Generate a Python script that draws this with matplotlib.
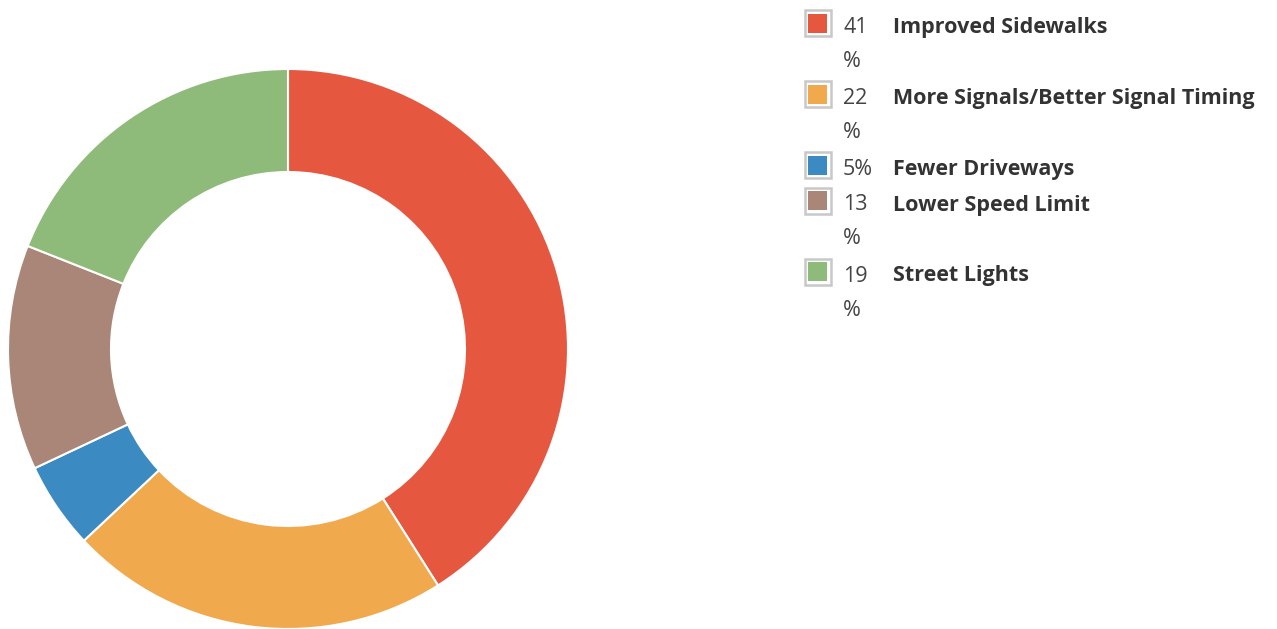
import matplotlib.pyplot as plt
from matplotlib.patches import Rectangle

# datos del grafico
categorias = ["Improved Sidewalks", "More Signals/Better Signal Timing",
              "Fewer Driveways", "Lower Speed Limit", "Street Lights"]
porcentajes = [41, 22, 5, 13, 19]
colores = ["#e5573f", "#f0aa4d", "#3b8bc2", "#a98677", "#8fbb7a"]

W, H = 1277, 629
fig = plt.figure(figsize=(W / 100, H / 100), dpi=100)
ax = fig.add_axes([0, 0, 1, 1])

# dona (coordenadas en pixeles, y hacia arriba)
ax.pie(porcentajes, colors=colores, startangle=90, counterclock=False,
       center=(288, H - 349), radius=280, frame=True,
       wedgeprops=dict(width=103, edgecolor="white", linewidth=1.5))
ax.set_xlim(0, W)
ax.set_ylim(0, H)
ax.set_aspect("equal")
ax.axis("off")

# leyenda a mano (el porcentaje de dos cifras se parte en dos lineas)
fuente = "Open Sans"
tam = 15.5
linea = 35.5
base = 33
for cat, p, c in zip(categorias, porcentajes, colores):
    ax.add_patch(Rectangle((804.5, H - (base - 23) - 26), 26, 26, facecolor="white",
                           edgecolor="#c8c8c8", linewidth=1.8))
    ax.add_patch(Rectangle((808, H - (base - 19.5) - 19), 19, 19,
                           facecolor=c, edgecolor="none"))
    ax.text(893, H - base, cat, fontsize=tam, family=fuente, color="#333333",
            fontweight="bold", va="baseline", ha="left")
    if p < 10:
        ax.text(843, H - base, f"{p}%", fontsize=tam, family=fuente,
                color="#444444", va="baseline", ha="left")
        base += linea
    else:
        ax.text(843, H - base, f"{p}", fontsize=tam, family=fuente,
                color="#444444", va="baseline", ha="left")
        ax.text(843, H - base - 34, "%", fontsize=tam, family=fuente,
                color="#444444", va="baseline", ha="left")
        base += 2 * linea

fig.savefig("out.png", dpi=100)
